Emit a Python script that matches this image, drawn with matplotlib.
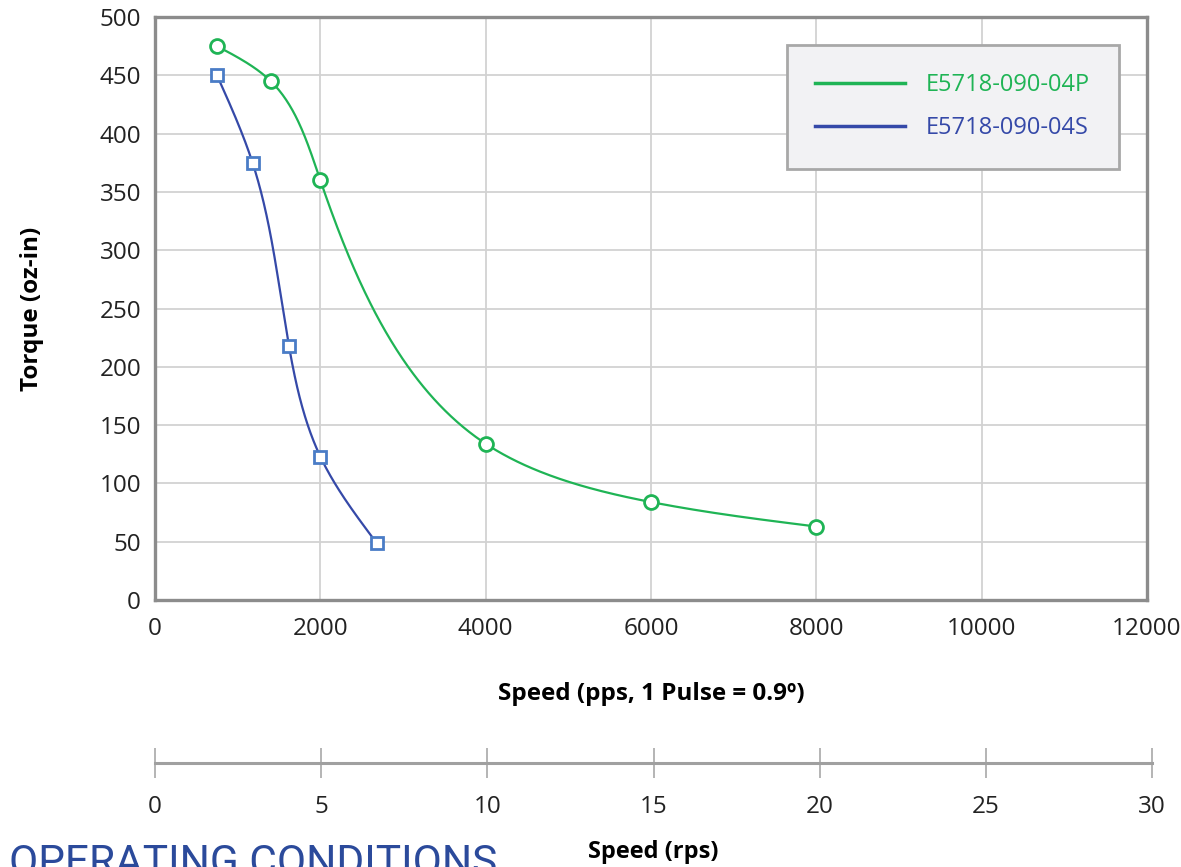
import numpy as np
import matplotlib
matplotlib.use("Agg")
import matplotlib.pyplot as plt
from matplotlib.lines import Line2D

# ---- data ----
p_speed = [750, 1400, 2000, 4000, 6000, 8000]
p_torque = [475, 445, 360, 134, 84, 63]
s_speed = [750, 1180, 1620, 2000, 2680]
s_torque = [450, 375, 218, 123, 49]
labels = ["E5718-090-04P", "E5718-090-04S"]
x_ticks = [0, 2000, 4000, 6000, 8000, 10000, 12000]
y_ticks = [0, 50, 100, 150, 200, 250, 300, 350, 400, 450, 500]
rps_ticks = [0, 5, 10, 15, 20, 25, 30]

GREEN = "#1fb455"
BLUE_LINE = "#3549a8"
BLUE_MK = "#4a7cc6"
SPINE = "#8c8c8c"
GRID = "#d2d2d2"

plt.rcParams['font.family'] = ['Open Sans', 'DejaVu Sans']

XMAX, YMAX = 12000.0, 500.0
PW, PH = 992.0, 583.0  # plot size in pixels (for screen-space smoothing)


def natural(t, v, ts):
    m = len(t)
    h = np.diff(t)
    A = np.zeros((m, m))
    b = np.zeros(m)
    A[0, 0] = A[-1, -1] = 1
    for i in range(1, m - 1):
        A[i, i - 1] = h[i - 1]
        A[i, i] = 2 * (h[i - 1] + h[i])
        A[i, i + 1] = h[i]
        b[i] = 6 * ((v[i + 1] - v[i]) / h[i] - (v[i] - v[i - 1]) / h[i - 1])
    M = np.linalg.solve(A, b)
    out = np.empty_like(ts)
    for k, tv in enumerate(ts):
        i = int(np.clip(np.searchsorted(t, tv) - 1, 0, m - 2))
        t1 = t[i + 1] - tv
        t0 = tv - t[i]
        out[k] = (M[i] * t1 ** 3 + M[i + 1] * t0 ** 3) / (6 * h[i]) + \
                 (v[i] / h[i] - M[i] * h[i] / 6) * t1 + \
                 (v[i + 1] / h[i] - M[i + 1] * h[i] / 6) * t0
    return out


def smooth(x, y, n=400):
    """Parametric (chord-length) natural cubic spline in screen space."""
    px = np.asarray(x, float) / XMAX * PW
    py = np.asarray(y, float) / YMAX * PH
    t = np.concatenate([[0], np.cumsum(np.hypot(np.diff(px), np.diff(py)))])
    ts = np.linspace(0, t[-1], n)
    return natural(t, px, ts) / PW * XMAX, natural(t, py, ts) / PH * YMAX


fig = plt.figure(figsize=(11.81, 8.67), dpi=100)
ax = fig.add_axes([155 / 1181, 1 - 600 / 867, 992 / 1181, 583 / 867])

xs, ys = smooth(p_speed, p_torque)
ax.plot(xs, ys, color=GREEN, lw=1.6, zorder=3)
ax.plot(p_speed, p_torque, 'o', ms=10, mfc='white', mec=GREEN, mew=2, zorder=4)
xs, ys = smooth(s_speed, s_torque)
ax.plot(xs, ys, color=BLUE_LINE, lw=1.6, zorder=3)
ax.plot(s_speed, s_torque, 's', ms=9, mfc='white', mec=BLUE_MK, mew=2, zorder=4)

ax.set_xlim(0, XMAX)
ax.set_ylim(0, YMAX)
ax.set_xticks(x_ticks)
ax.set_yticks(y_ticks)
ax.grid(True, color=GRID, lw=1.3)
ax.set_axisbelow(True)
for s in ax.spines.values():
    s.set_color(SPINE)
    s.set_linewidth(2.4)
ax.tick_params(length=0, labelsize=17.5, colors='#222222', pad=10)
ax.tick_params(axis='x', pad=12)
ax.set_ylabel("Torque (oz-in)", fontsize=17.5, fontweight='bold', labelpad=40)
ax.set_xlabel("Speed (pps, 1 Pulse = 0.9º)", fontsize=17.5, fontweight='bold', labelpad=30)

handles = [Line2D([0], [0], color=GREEN, lw=2.5), Line2D([0], [0], color=BLUE_LINE, lw=2.5)]
leg = ax.legend(handles, labels, loc='upper left', bbox_to_anchor=(0.637, 0.952),
                fontsize=17, frameon=True, fancybox=False, handlelength=3.8,
                handletextpad=0.9, borderpad=1.2, labelspacing=0.8, borderaxespad=0)
leg.get_frame().set_facecolor('#f2f2f4')
leg.get_frame().set_edgecolor('#a8a8a8')
leg.get_frame().set_linewidth(2)
leg.get_frame().set_alpha(1)
for t, c in zip(leg.get_texts(), [GREEN, BLUE_LINE]):
    t.set_color(c)

# secondary rps axis
ax2 = fig.add_axes([155 / 1181, 1 - 763 / 867, 997 / 1181, 0.0001])
ax2.set_xlim(0, 30)
ax2.set_xticks(rps_ticks)
ax2.set_yticks([])
for k in ['top', 'left', 'right']:
    ax2.spines[k].set_visible(False)
ax2.spines['bottom'].set_color('#a0a0a0')
ax2.spines['bottom'].set_linewidth(2.2)
ax2.patch.set_visible(False)
ax2.tick_params(axis='x', direction='inout', length=22, width=1.2, color='#a8a8a8',
                labelsize=17.5, labelcolor='#222222', pad=12)
ax2.set_xlabel("Speed (rps)", fontsize=17, fontweight='bold', labelpad=15)

fig.text(0.008, -0.0095, "OPERATING CONDITIONS", fontsize=30.5, color='#2b4a9b',
         family='Roboto', va='baseline', ha='left')

fig.savefig("out.png", dpi=100)
